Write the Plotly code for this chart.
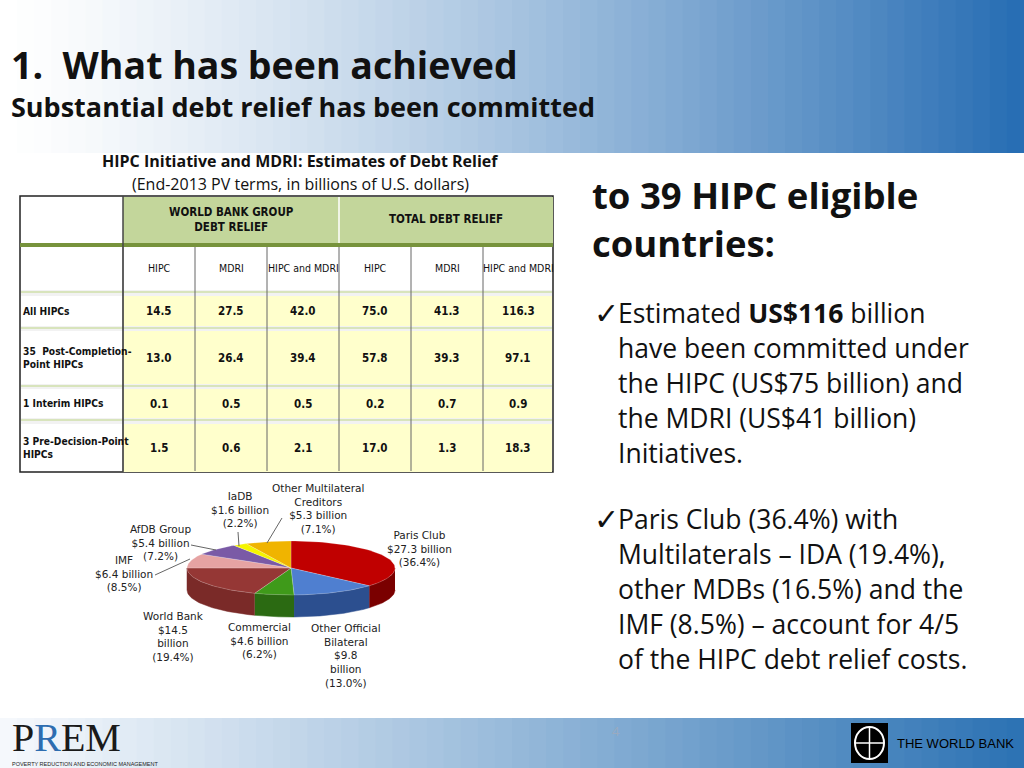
import numpy as np
import plotly.graph_objects as go

# ---------------- data ----------------
row_labels = ["All HIPCs", "35  Post-Completion-<br>Point HIPCs", "1 Interim HIPCs", "3 Pre-Decision-Point<br>HIPCs"]
col_labels = ["HIPC", "MDRI", "HIPC and MDRI", "HIPC", "MDRI", "HIPC and MDRI"]
group_labels = ["WORLD BANK GROUP<br>DEBT RELIEF", "TOTAL DEBT RELIEF"]
wbg_hipc = [14.5, 13.0, 0.1, 1.5]
wbg_mdri = [27.5, 26.4, 0.5, 0.6]
wbg_both = [42.0, 39.4, 0.5, 2.1]
tot_hipc = [75.0, 57.8, 0.2, 17.0]
tot_mdri = [41.3, 39.3, 0.7, 1.3]
tot_both = [116.3, 97.1, 0.9, 18.3]

creditors = ["Paris Club", "Other Official Bilateral", "Commercial", "World Bank",
             "IMF", "AfDB Group", "IaDB", "Other Multilateral Creditors"]
relief_bn = [27.3, 9.8, 4.6, 14.5, 6.4, 5.4, 1.6, 5.3]
relief_pct = [36.4, 13.0, 6.2, 19.4, 8.5, 7.2, 2.2, 7.1]
slice_colors = ["#c00000", "#4f7fd0", "#3f9a1a", "#953735", "#e6a3a3", "#7a5aa6", "#f5f500", "#f0b400"]
side_colors = ["#7a0000", "#2c4f8f", "#2b6a12", "#7a2a28", "#b07a7a", "#553d78", "#b0b000", "#a87e00"]

W, H = 1024, 768
fig = go.Figure()
shapes, annos = [], []

def rect(x0, y0, x1, y1, fill, line=None, lw=0):
    shapes.append(dict(type="rect", xref="x", yref="y", x0=x0, y0=y0, x1=x1, y1=y1,
                       fillcolor=fill, line=dict(color=line or fill, width=lw), layer="below"))

def text(x, y, s, size, color="#111", bold=False, family="Open Sans", xa="left", ya="middle", align="left"):
    annos.append(dict(x=x, y=y, xref="x", yref="y", text=("<b>%s</b>" % s) if bold else s,
                      showarrow=False, xanchor=xa, yanchor=ya, align=align,
                      font=dict(size=size, color=color, family=family)))

def lerp(c1, c2, t):
    return "rgb(%d,%d,%d)" % tuple(int(a + (b - a) * t) for a, b in zip(c1, c2))

# header & footer gradients
N = 60
for i in range(N):
    t = i / (N - 1)
    x0, x1 = W * i / N, W * (i + 1) / N + 1
    rect(x0, 0, x1, 153, lerp((255, 255, 255), (40, 110, 180), t ** 1.3))
    rect(x0, 718, x1, 768, lerp((245, 248, 252), (45, 115, 180), t ** 1.1))

# titles
text(9, 64, "1.  What has been achieved", 37.5, bold=True)
text(9, 106, "Substantial debt relief has been committed", 27, bold=True)

# table
TF = "DejaVu Sans Condensed, Liberation Sans"
text(300, 161, "HIPC Initiative and MDRI: Estimates of Debt Relief", 16, bold=True, xa="center")
text(300, 184, "(End-2013 PV terms, in billions of U.S. dollars)", 16, xa="center")
xs = [20, 123, 195, 267, 339, 411, 483, 553]
green, yellow = "#c3d69b", "#ffffcc"
rect(20, 196, 553, 472, "white", "#222", 1.5)
rect(123, 197, 553, 243, green)
rect(20, 243, 553, 247, "#77933c")
for k, g in enumerate(group_labels):
    text((xs[1 + 3 * k] + xs[4 + 3 * k]) / 2, 219, g, 11.5, "#111", bold=True, family=TF, xa="center", align="center")
shapes.append(dict(type="line", xref="x", yref="y", x0=339, x1=339, y0=197, y1=243, line=dict(color="white", width=1.5)))
for j, c in enumerate(col_labels):
    text((xs[j + 1] + xs[j + 2]) / 2, 268, c, 10.5, family=TF, xa="center")
rows_y = [(296, 326), (331, 384), (389, 418), (424, 472)]
seps = [(290, 296), (326, 331), (384, 389), (418, 424)]
for a, b in seps:
    rect(21, a, 552, b, "#f2f2f2")
    shapes.append(dict(type="line", xref="x", yref="y", x0=21, x1=552, y0=a + 2, y1=a + 2, line=dict(color="#d8e4bc", width=2)))
cols = [wbg_hipc, wbg_mdri, wbg_both, tot_hipc, tot_mdri, tot_both]
for r, (a, b) in enumerate(rows_y):
    rect(123, a, 552, b, yellow)
    text(21, (a + b) / 2, row_labels[r], 10.2, bold=True, family=TF)
    for j, col in enumerate(cols):
        text((xs[j + 1] + xs[j + 2]) / 2, (a + b) / 2, "%.1f" % col[r], 11.5, bold=True, family=TF, xa="center")
for x in xs[1:-1]:
    shapes.append(dict(type="line", xref="x", yref="y", x0=x, x1=x, y0=247, y1=471, line=dict(color="#666", width=1)))
shapes.append(dict(type="line", xref="x", yref="y", x0=123, x1=123, y0=196, y1=472, line=dict(color="#444", width=1.5)))

# 3D pie drawn from data
cx, cy, rx, ry, depth = 291, 568, 104, 27, 22
total = sum(relief_bn)
cum = np.concatenate([[0], np.cumsum(relief_bn)]) / total * 2 * np.pi
for i in range(len(relief_bn)):
    a0, a1 = cum[i], cum[i + 1]
    lo, hi = max(a0, np.pi / 2), min(a1, 1.5 * np.pi)
    if hi > lo:
        th = np.linspace(lo, hi, 40)
        px = cx + rx * np.sin(th)
        py = cy - ry * np.cos(th)
        fig.add_trace(go.Scatter(x=np.concatenate([px, px[::-1]]), y=np.concatenate([py, py[::-1] + depth]),
                                 fill="toself", fillcolor=side_colors[i], mode="lines",
                                 line=dict(color=side_colors[i], width=0.5), hoverinfo="skip", showlegend=False))
for i in range(len(relief_bn)):
    th = np.linspace(cum[i], cum[i + 1], 60)
    px = np.concatenate([[cx], cx + rx * np.sin(th), [cx]])
    py = np.concatenate([[cy], cy - ry * np.cos(th), [cy]])
    fig.add_trace(go.Scatter(x=px, y=py, fill="toself", fillcolor=slice_colors[i], mode="lines",
                             line=dict(color="rgba(255,255,255,0.4)", width=0.5), name=creditors[i], showlegend=False))
PF = "DejaVu Sans"
lab = [
    (419, 548, "Paris Club<br>$%.1f billion<br>(%.1f%%)"),
    (346, 655, "Other Official<br>Bilateral<br>$%.1f<br>billion<br>(%.1f%%)"),
    (259, 640, "Commercial<br>$%.1f billion<br>(%.1f%%)"),
    (173, 636, "World Bank<br>$%.1f<br>billion<br>(%.1f%%)"),
    (124, 573, "IMF<br>$%.1f billion<br>(%.1f%%)"),
    (160, 542, "AfDB Group<br>$%.1f billion<br>(%.1f%%)"),
    (240, 509, "IaDB<br>$%.1f billion<br>(%.1f%%)"),
    (318, 508, "Other Multilateral<br>Creditors<br>$%.1f billion<br>(%.1f%%)"),
]
for i, (x, y, fmt) in enumerate(lab):
    s = fmt % (relief_bn[i], relief_pct[i])
    text(x, y, s, 10.5, "#222", family=PF, xa="center", align="center")
for (x0, y0, x1, y1) in [(155, 575, 190, 559), (191, 545, 216, 550), (238, 532, 239, 546), (282, 518, 267, 543)]:
    shapes.append(dict(type="line", xref="x", yref="y", x0=x0, y0=y0, x1=x1, y1=y1, line=dict(color="#666", width=1)))

# right text
text(590, 195, "to 39 HIPC eligible", 36.5, bold=True)
text(590, 243, "countries:", 36.5, bold=True)
b1 = ["Estimated <b>US$116</b> billion", "have been committed under", "the HIPC (US$75 billion) and",
      "the MDRI (US$41 billion)", "Initiatives."]
b2 = ["Paris Club (36.4%) with", "Multilaterals – IDA (19.4%),", "other MDBs (16.5%) and the",
      "IMF (8.5%) – account for 4/5", "of the HIPC debt relief costs."]
text(592, 313, "✓", 30, family="DejaVu Sans")
text(592, 519, "✓", 30, family="DejaVu Sans")
for k, s in enumerate(b1):
    text(616, 313 + 35 * k, s, 26.5)
for k, s in enumerate(b2):
    text(616, 519 + 35 * k, s, 26.5)

# footer
text(616, 731, "4", 13, "#9aaac0", xa="center")
text(10, 737, "<span style='color:#1a1a1a'>P</span><span style='color:#2e6db0'>R</span>EM", 40, "#1a1a1a", family="Liberation Serif")
text(10, 764, "POVERTY REDUCTION AND ECONOMIC MANAGEMENT", 5.5, "#222", family="Liberation Sans")
rect(851, 723, 888, 763, "black")
shapes.append(dict(type="circle", xref="x", yref="y", x0=855, y0=727, x1=884, y1=759, line=dict(color="white", width=2)))
shapes.append(dict(type="line", xref="x", yref="y", x0=869.5, y0=727, x1=869.5, y1=759, line=dict(color="white", width=1.5)))
shapes.append(dict(type="line", xref="x", yref="y", x0=855, y0=743, x1=884, y1=743, line=dict(color="white", width=1.5)))
text(895, 743, "THE WORLD BANK", 13, "black", family="Liberation Sans")

fig.update_layout(width=W, height=H, margin=dict(l=0, r=0, t=0, b=0),
                  paper_bgcolor="white", plot_bgcolor="white", shapes=shapes, annotations=annos,
                  xaxis=dict(range=[0, W], visible=False, fixedrange=True),
                  yaxis=dict(range=[H, 0], visible=False, fixedrange=True))
fig.write_html("out.html", config=dict(displayModeBar=False),
               post_script="document.body.style.margin='0';document.body.style.overflow='hidden';")
